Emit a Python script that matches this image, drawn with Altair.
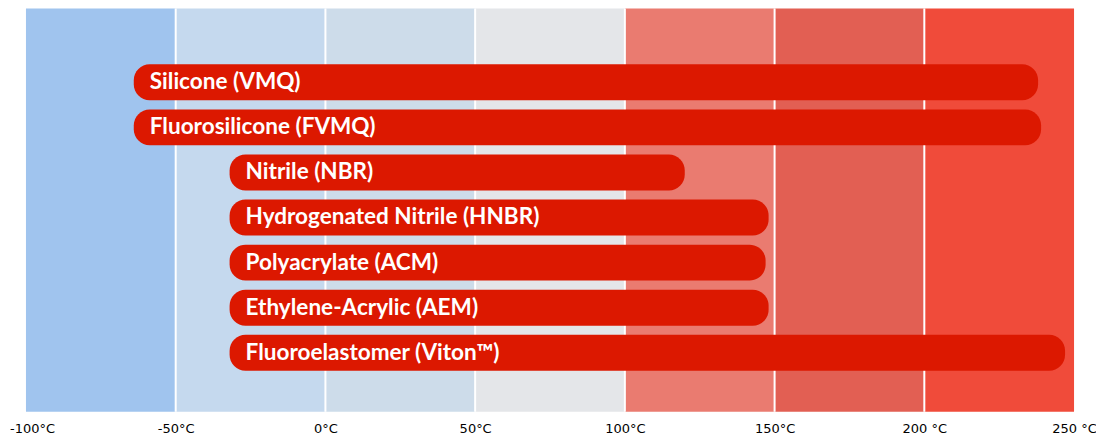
import altair as alt
import pandas as pd

# Temperature bands (°C) and their colours
band_start = [-100, -50, 0, 50, 100, 150, 200]
band_end = [-50, 0, 50, 100, 150, 200, 250]
band_color = ["#a0c4ee", "#c5d9ee", "#cddcea", "#e4e6e9", "#ea7b70", "#e25f53", "#f04b3a"]

# Materials and their temperature ranges (°C)
materials = [
    "Silicone (VMQ)",
    "Fluorosilicone (FVMQ)",
    "Nitrile (NBR)",
    "Hydrogenated Nitrile (HNBR)",
    "Polyacrylate (ACM)",
    "Ethylene-Acrylic (AEM)",
    "Fluoroelastomer (Viton™)",
]
t_min = [-64, -64, -32, -32, -32, -32, -32]
t_max = [238, 239, 120, 148, 147, 148, 247]

tick_values = [-100, -50, 0, 50, 100, 150, 200, 250]
divider_values = [-50, 0, 50, 100, 150, 200]

bands = pd.DataFrame({"start": band_start, "end": band_end, "color": band_color})
bars = pd.DataFrame({"material": materials, "tmin": t_min, "tmax": t_max})
dividers = pd.DataFrame({"x": divider_values})

xscale = alt.Scale(domain=[-100, 250], nice=False, zero=False)
yscale = alt.Scale(domain=materials, paddingInner=0.203, paddingOuter=0, range=[56, 363])

x_axis = alt.Axis(
    values=tick_values,
    labelExpr="datum.value >= 200 ? datum.value + ' °C' : datum.value + '°C'",
    title=None,
    grid=False,
    ticks=False,
    domain=False,
    labelFont="DejaVu Sans",
    labelFontSize=13,
    labelColor="#000000",
    labelPadding=11,
    labelFlush=False,
    labelOffset={"condition": {"test": "datum.value == -100", "value": 6}, "value": 0},
)

band_layer = alt.Chart(bands).mark_rect().encode(
    x=alt.X("start:Q", scale=xscale, axis=x_axis),
    x2="end:Q",
    color=alt.Color("color:N", scale=None),
)

divider_layer = alt.Chart(dividers).mark_rule(color="white", strokeWidth=2).encode(
    x=alt.X("x:Q", scale=xscale),
)

bar_layer = alt.Chart(bars).mark_bar(color="#dc1800", cornerRadius=16).encode(
    x=alt.X("tmin:Q", scale=xscale),
    x2="tmax:Q",
    y=alt.Y("material:N", scale=yscale, axis=None, sort=materials),
)

text_layer = alt.Chart(bars).mark_text(
    align="left", baseline="middle", dx=16, dy=0,
    font="Lato", fontWeight="bold", fontSize=22.6, color="white",
).encode(
    x=alt.X("tmin:Q", scale=xscale),
    y=alt.Y("material:N", scale=yscale, axis=None, sort=materials),
    text="material:N",
)

chart = alt.layer(band_layer, divider_layer, bar_layer, text_layer).properties(
    width=1050,
    height=404,
    padding={"left": 18, "top": 0, "right": 22, "bottom": 28},
    autosize=alt.AutoSizeParams(type="none"),
    background="white",
).configure_view(stroke=None)

chart.save("out.html", embed_options={"renderer": "svg", "actions": False})
